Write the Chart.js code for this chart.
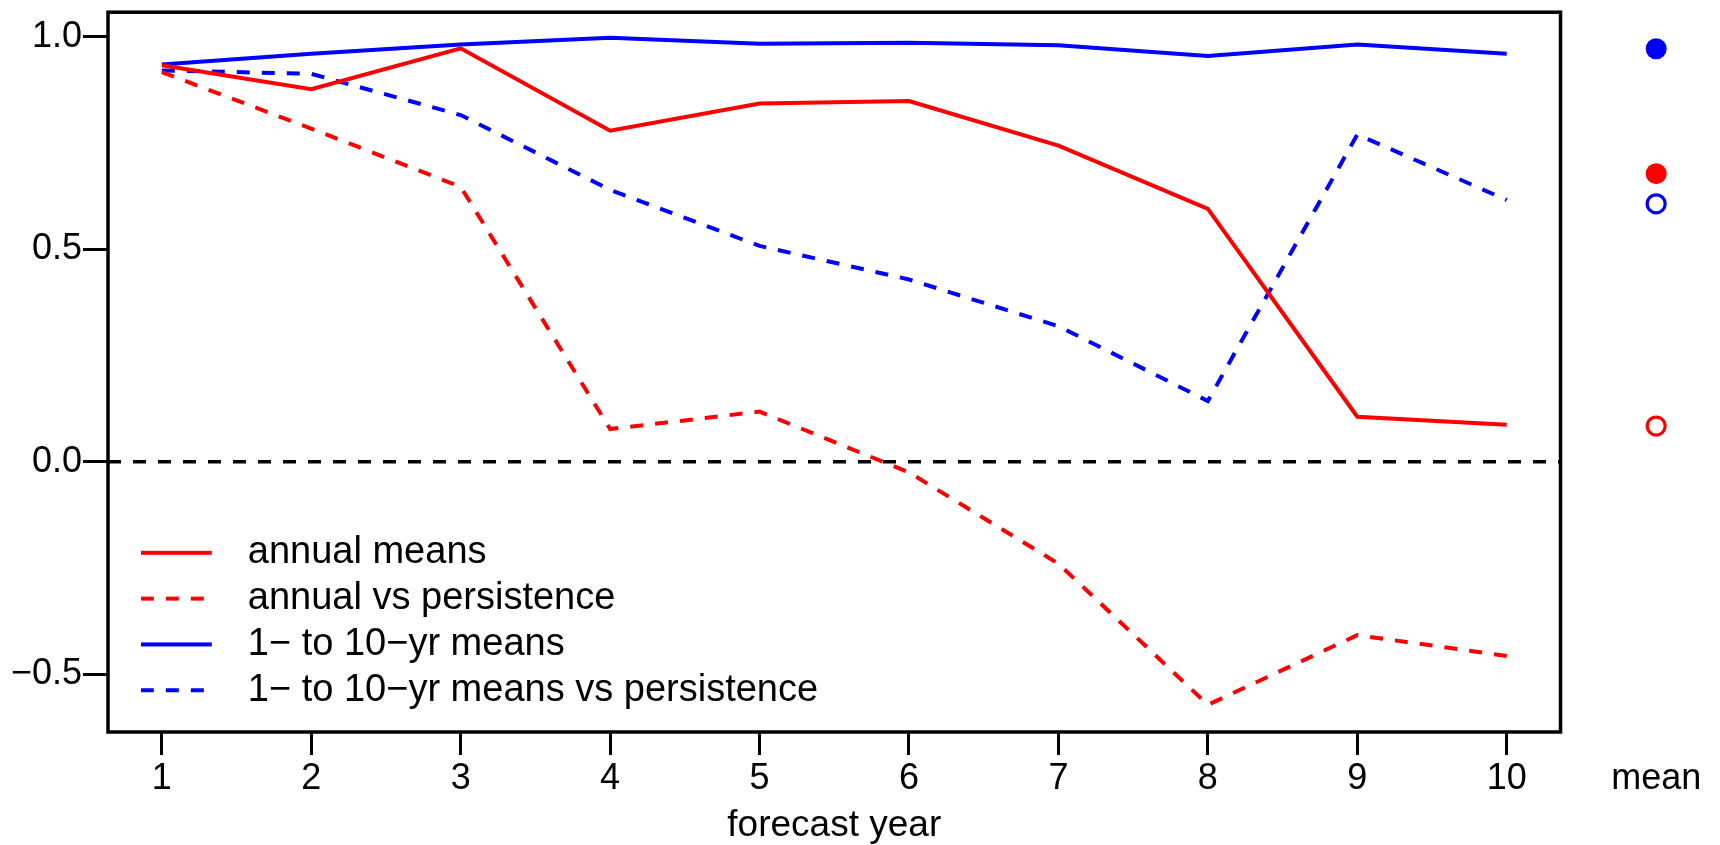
<!DOCTYPE html>
<html>
<head>
<meta charset="utf-8">
<script src="https://cdn.jsdelivr.net/npm/chart.js@4.4.0/dist/chart.umd.min.js"></script>
<style>
    html, body { margin: 0; padding: 0; background: #fff; overflow: hidden; }
    #wrap { width: 1720px; height: 845px; position: relative; }
</style>
</head>
<body>
<div id="wrap"><canvas id="myChart"></canvas></div>
<script>
// values
const forecastYears = [1, 2, 3, 4, 5, 6, 7, 8, 9, 10];
const annualMeans = [0.933, 0.877, 0.973, 0.779, 0.843, 0.849, 0.744, 0.595, 0.106, 0.087];
const annualVsPersistence = [0.917, 0.784, 0.647, 0.077, 0.118, -0.025, -0.240, -0.572, -0.408, -0.457];
const decadalMeans = [0.935, 0.960, 0.982, 0.998, 0.984, 0.986, 0.980, 0.955, 0.982, 0.960];
const decadalVsPersistence = [0.921, 0.913, 0.816, 0.640, 0.508, 0.429, 0.319, 0.143, 0.770, 0.616];
const seriesMeans = [0.678, 0.084, 0.972, 0.607];
const seriesNames = ['annual means', 'annual vs persistence', '1\u2212 to 10\u2212yr means', '1\u2212 to 10\u2212yr means vs persistence'];
const yTicks = [-0.5, 0, 0.5, 1];
const meanLabel = 'mean';
const xTitle = 'forecast year';

const seriesValues = [annualMeans, annualVsPersistence, decadalMeans, decadalVsPersistence];
const seriesColors = ['#ff0000', '#ff0000', '#0000ff', '#0000ff'];
const seriesDashed = [false, true, false, true];

const meanX = 11;          // column of the mean dots, right of the box
const frameX = [0.64, 10.36]; // x range of the plot box
const fontFamily = '"Liberation Sans", Arial, Helvetica, sans-serif';
const dash = [13, 12];
const lineWidth = 4;

Chart.defaults.font.family = fontFamily;
Chart.defaults.color = '#000';

function lineDataset(i) {
    return {
        label: seriesNames[i],
        data: forecastYears.map((yr, j) => ({ x: yr, y: seriesValues[i][j] })),
        borderColor: seriesColors[i],
        backgroundColor: seriesColors[i],
        borderWidth: lineWidth,
        borderDash: seriesDashed[i] ? dash : [],
        pointRadius: 0,
        tension: 0,
        fill: false
    };
}

function meanDataset(i) {
    let filled = !seriesDashed[i];
    return {
        label: meanLabel,
        data: [{ x: meanX, y: seriesMeans[i] }],
        showLine: false,
        pointRadius: filled ? 10.5 : 9,
        pointBorderWidth: filled ? 0 : 3.2,
        pointBackgroundColor: filled ? seriesColors[i] : '#ffffff',
        pointBorderColor: seriesColors[i]
    };
}

function zeroDataset() {
    return {
        label: 'zero',
        data: [{ x: frameX[0], y: 0 }, { x: frameX[1], y: 0 }],
        borderColor: '#000',
        borderWidth: 3.3,
        borderDash: dash,
        pointRadius: 0
    };
}

// short line sample with empty space behind it, used as legend point style
function legendMarker(i) {
    let c = document.createElement('canvas');
    c.width = 88;
    c.height = 8;
    let g = c.getContext('2d');
    g.strokeStyle = seriesColors[i];
    g.lineWidth = lineWidth;
    g.setLineDash(seriesDashed[i] ? dash : []);
    g.beginPath();
    g.moveTo(0, 4);
    g.lineTo(71, 4);
    g.stroke();
    return c;
}

function legendItems() {
    return seriesNames.map((name, i) => ({
        text: name,
        fillStyle: seriesColors[i],
        strokeStyle: seriesColors[i],
        fontColor: '#000',
        lineWidth: lineWidth,
        pointStyle: legendMarker(i),
        hidden: false,
        datasetIndex: i
    }));
}

// plot box, axis title and legend placement
const boxPlugin = {
    id: 'box',
    beforeDraw(chart) {
        let legend = chart.legend;
        legend.left = 133;
        legend.top = 526;
        legend.right = 1000;
        legend.bottom = 732;
    },
    afterDatasetsDraw(chart) {
        const ctx = chart.ctx;
        const area = chart.chartArea;
        const right = chart.scales.x.getPixelForValue(frameX[1]);
        ctx.save();
        ctx.strokeStyle = '#000';
        ctx.lineWidth = 3.5;
        ctx.strokeRect(area.left, area.top, right - area.left, area.bottom - area.top);
        ctx.fillStyle = '#000';
        ctx.font = '37px ' + fontFamily;
        ctx.textAlign = 'center';
        ctx.textBaseline = 'alphabetic';
        ctx.fillText(xTitle, (area.left + right) / 2, 836);
        ctx.restore();
    }
};

let datasets = [];
for (let i = 0; i < seriesNames.length; i++) {
    datasets.push(lineDataset(i));
}
datasets.push(zeroDataset());
for (let i = 0; i < seriesNames.length; i++) {
    datasets.push(meanDataset(i));
}

const ctx = document.getElementById('myChart');
new Chart(ctx, {
    type: 'line',
    data: { datasets: datasets },
    plugins: [boxPlugin],
    options: {
        responsive: true,
        maintainAspectRatio: false,
        devicePixelRatio: 1,
        animation: false,
        events: [],
        layout: { padding: { left: 0, top: 10, right: 19, bottom: 0 } },
        plugins: {
            tooltip: { enabled: false },
            legend: {
                position: 'chartArea',
                fullSize: false,
                align: 'start',
                labels: {
                    usePointStyle: true,
                    pointStyleWidth: 88,
                    padding: 7.8,
                    color: '#000',
                    font: { size: 38 },
                    generateLabels: legendItems
                }
            }
        },
        scales: {
            x: {
                type: 'linear',
                min: frameX[0],
                max: 11.3,
                afterBuildTicks: s => { s.ticks = forecastYears.concat([meanX]).map(v => ({ value: v })); },
                afterFit: s => { s.height = 113; s.paddingLeft = 0; s.paddingRight = 0; },
                ticks: {
                    autoSkip: false,
                    maxRotation: 0,
                    padding: 2,
                    color: '#000',
                    font: { size: 36 },
                    callback: v => v === meanX ? meanLabel : String(v)
                },
                grid: {
                    drawOnChartArea: false,
                    drawTicks: true,
                    tickLength: 23,
                    tickWidth: 3,
                    tickColor: c => (c.tick && c.tick.value === meanX) ? 'rgba(0,0,0,0)' : '#000'
                },
                border: { display: false }
            },
            y: {
                type: 'linear',
                min: -0.636,
                max: 1.058,
                afterBuildTicks: s => { s.ticks = yTicks.map(v => ({ value: v })); },
                afterFit: s => { s.width = 108; s.paddingTop = 0; s.paddingBottom = 0; },
                ticks: {
                    padding: 1,
                    color: '#000',
                    font: { size: 36 },
                    callback: v => v < 0 ? '\u2212' + Math.abs(v).toFixed(1) : v.toFixed(1)
                },
                grid: {
                    drawOnChartArea: false,
                    drawTicks: true,
                    tickLength: 25,
                    tickWidth: 3,
                    tickColor: '#000'
                },
                border: { display: false }
            }
        }
    }
});
</script>
</body>
</html>
